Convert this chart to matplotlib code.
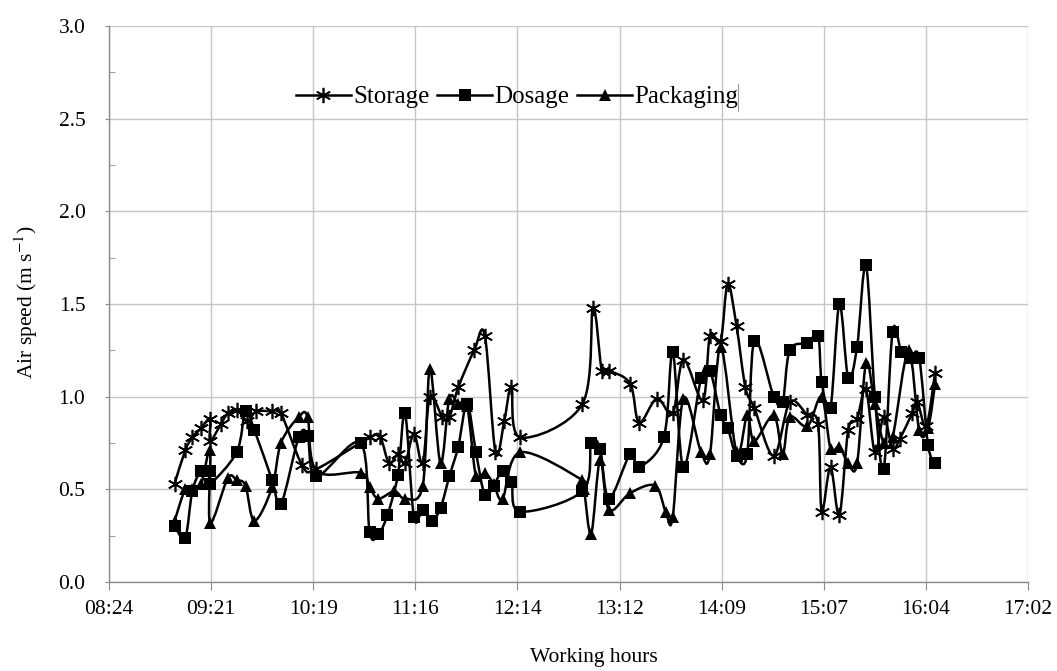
import numpy as np
import matplotlib
matplotlib.use("Agg")
import matplotlib.pyplot as plt
from matplotlib.path import Path
from matplotlib.patches import PathPatch
from matplotlib.lines import Line2D
from matplotlib.ticker import FuncFormatter, MultipleLocator

plt.rcParams['font.family'] = ['Liberation Serif', 'DejaVu Serif']
plt.rcParams['mathtext.fontset'] = 'stix'

# measured air speed (m/s) at each sampling time
storage_time = ["09:01", "09:07", "09:11", "09:16", "09:21", "09:21", "09:27", "09:31", "09:36", "09:42",
                "09:47", "09:56", "10:01", "10:13", "10:21", "10:51", "10:57", "11:02", "11:07", "11:11",
                "11:16", "11:21", "11:25", "11:32", "11:36", "11:41", "11:50", "11:56", "12:02", "12:07",
                "12:11", "12:16", "12:51", "12:57", "13:02", "13:06", "13:18", "13:23", "13:33", "13:42",
                "13:48", "13:59", "14:03", "14:09", "14:13", "14:18", "14:23", "14:28", "14:39", "14:48",
                "14:58", "15:04", "15:06", "15:11", "15:16", "15:21", "15:26", "15:31", "15:36", "15:41",
                "15:46", "15:50", "15:57", "16:00", "16:05", "16:10"]
storage_speed = [0.53, 0.71, 0.78, 0.83, 0.88, 0.76, 0.85, 0.91, 0.93, 0.87,
                 0.92, 0.92, 0.91, 0.63, 0.61, 0.78, 0.78, 0.64, 0.69, 0.64,
                 0.80, 0.64, 1.00, 0.89, 0.89, 1.05, 1.25, 1.33, 0.70, 0.87,
                 1.05, 0.78, 0.96, 1.48, 1.14, 1.14, 1.07, 0.86, 0.99, 0.91,
                 1.20, 0.98, 1.33, 1.30, 1.61, 1.38, 1.05, 0.94, 0.68, 0.97,
                 0.90, 0.85, 0.38, 0.62, 0.36, 0.82, 0.88, 1.04, 0.70, 0.89,
                 0.72, 0.77, 0.91, 0.97, 0.84, 1.13]

dosage_time = ["09:01", "09:07", "09:11", "09:16", "09:21", "09:21", "09:36", "09:41", "09:46", "09:56",
               "10:01", "10:11", "10:16", "10:21", "10:46", "10:51", "10:56", "11:01", "11:07", "11:11",
               "11:16", "11:21", "11:26", "11:31", "11:36", "11:41", "11:46", "11:51", "11:56", "12:01",
               "12:06", "12:11", "12:16", "12:51", "12:56", "13:01", "13:06", "13:18", "13:23", "13:37",
               "13:42", "13:48", "13:58", "14:03", "14:09", "14:13", "14:18", "14:24", "14:28", "14:39",
               "14:44", "14:48", "14:58", "15:04", "15:06", "15:11", "15:16", "15:21", "15:26", "15:31",
               "15:36", "15:41", "15:46", "15:51", "15:56", "16:01", "16:06", "16:10"]
dosage_speed = [0.30, 0.24, 0.49, 0.60, 0.60, 0.53, 0.70, 0.92, 0.82, 0.55,
                0.42, 0.78, 0.79, 0.57, 0.75, 0.27, 0.26, 0.36, 0.58, 0.91,
                0.35, 0.39, 0.33, 0.40, 0.57, 0.73, 0.96, 0.70, 0.47, 0.52,
                0.60, 0.54, 0.38, 0.49, 0.75, 0.72, 0.45, 0.69, 0.62, 0.78,
                1.24, 0.62, 1.10, 1.14, 0.90, 0.83, 0.68, 0.69, 1.30, 1.00,
                0.97, 1.25, 1.29, 1.33, 1.08, 0.94, 1.50, 1.10, 1.27, 1.71,
                1.00, 0.61, 1.35, 1.24, 1.21, 1.21, 0.74, 0.64]

packaging_time = ["09:01", "09:07", "09:11", "09:16", "09:21", "09:21", "09:31", "09:36", "09:41", "09:46",
                  "09:56", "10:01", "10:11", "10:16", "10:21", "10:46", "10:51", "10:56", "11:05", "11:11",
                  "11:21", "11:25", "11:31", "11:36", "11:41", "11:46", "11:51", "11:56", "12:01", "12:06",
                  "12:16", "12:51", "12:52", "12:56", "13:01", "13:06", "13:18", "13:32", "13:38", "13:42",
                  "13:48", "13:58", "14:03", "14:09", "14:18", "14:24", "14:28", "14:39", "14:44", "14:48",
                  "14:58", "15:06", "15:11", "15:16", "15:21", "15:26", "15:31", "15:36", "15:41", "15:46",
                  "15:55", "16:01", "16:06", "16:10"]
packaging_speed = [0.33, 0.50, 0.50, 0.53, 0.71, 0.32, 0.56, 0.55, 0.52, 0.33,
                   0.51, 0.75, 0.89, 0.89, 0.60, 0.59, 0.51, 0.45, 0.49, 0.45,
                   0.52, 1.15, 0.64, 0.99, 0.96, 0.95, 0.57, 0.59, 0.53, 0.45,
                   0.70, 0.55, 0.50, 0.26, 0.66, 0.39, 0.48, 0.52, 0.38, 0.35,
                   0.99, 0.70, 0.69, 1.27, 0.70, 0.90, 0.76, 0.90, 0.69, 0.89,
                   0.84, 1.00, 0.72, 0.73, 0.64, 0.64, 1.18, 0.96, 0.75, 0.78,
                   1.25, 0.82, 0.83, 1.07]


def to_minutes(times):
    return np.array([int(t[:2]) * 60 + int(t[3:]) for t in times], dtype=float)


def smooth_path(x, y):
    # Catmull-Rom style bezier through the points (like a spreadsheet "smoothed line")
    pts = np.column_stack([x, y])
    n = len(pts)
    verts = [pts[0]]
    codes = [Path.MOVETO]
    for i in range(n - 1):
        p0 = pts[max(i - 1, 0)]
        p1 = pts[i]
        p2 = pts[i + 1]
        p3 = pts[min(i + 2, n - 1)]
        verts += [p1 + (p2 - p0) / 6.0, p2 - (p3 - p1) / 6.0, p2]
        codes += [Path.CURVE4] * 3
    return Path(verts, codes)


fig = plt.figure(figsize=(10.57, 6.71), dpi=100)
ax = fig.add_axes([109 / 1057, 1 - 582 / 671, 919 / 1057, 556 / 671])

series = [
    ("Storage", storage_time, storage_speed, dict(marker=(6, 2, 0), ms=11, mew=1.2)),
    ("Dosage", dosage_time, dosage_speed, dict(marker='s', ms=8.3, mew=0)),
    ("Packaging", packaging_time, packaging_speed, dict(marker='^', ms=9, mew=0)),
]

handles = []
for z, (name, t, v, mk) in enumerate(series):
    x = to_minutes(t)
    ax.add_patch(PathPatch(smooth_path(x, v), facecolor='none', edgecolor='black',
                           lw=1.8, zorder=3 + z))
    ax.plot(x, v, linestyle='none', color='black', zorder=3.5 + z, **mk)
    handles.append(Line2D([], [], color='black', lw=1.8, label=name, **mk))

xticks = 504 + 57.6 * np.arange(10)
ax.set_xlim(xticks[0], xticks[-1])
ax.set_ylim(0, 3)
ax.set_xticks(xticks)
ax.set_yticks(np.arange(0, 3.01, 0.5))
ax.yaxis.set_minor_locator(MultipleLocator(0.25))


def hhmm(v, pos):
    v = v + 1e-6
    return "%02d:%02d" % (int(v // 60), int(v % 60))


ax.xaxis.set_major_formatter(FuncFormatter(hhmm))
ax.yaxis.set_major_formatter(FuncFormatter(lambda v, p: "%.1f" % v))

ax.grid(True, color='#c6c6c6', lw=1.0)
ax.set_axisbelow(True)
for s in ['top', 'right']:
    ax.spines[s].set_visible(False)
for s in ['left', 'bottom']:
    ax.spines[s].set_color('#8a8a8a')
    ax.spines[s].set_linewidth(1.0)

ax.tick_params(axis='x', which='major', direction='out', length=6, color='#8a8a8a',
               labelsize=15.5, pad=7)
ax.tick_params(axis='y', which='major', direction='out', length=3, color='#8a8a8a',
               labelsize=15.5, pad=14)
ax.tick_params(axis='y', which='minor', direction='in', length=4, color='#8a8a8a')

fig.text(530 / 1057, 1 - 648 / 671, "Working hours", ha='left', va='top', fontsize=15.5)
fig.text(26 / 1057, 1 - 302 / 671, r"Air speed (m s$^{-1}$)", rotation=90,
         ha='center', va='center', fontsize=15.5)

ax.legend(handles=handles, loc='center', bbox_to_anchor=(517 / 1057, 1 - 97 / 671),
          bbox_transform=fig.transFigure, ncol=3, frameon=False, fontsize=18,
          handlelength=2.2, handletextpad=0.1, columnspacing=0.3, borderpad=0)
fig.add_artist(Line2D([738 / 1057] * 2, [1 - 84 / 671, 1 - 111 / 671], color='#9a9a9a', lw=0.8))

fig.savefig("out.png", dpi=100)
